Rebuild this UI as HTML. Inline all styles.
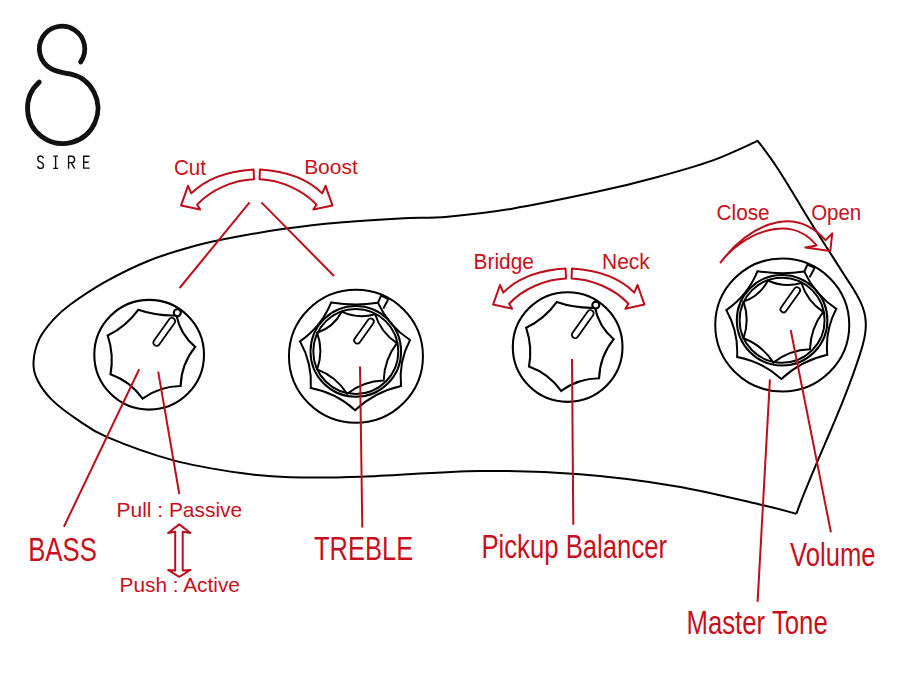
<!DOCTYPE html>
<html><head><meta charset="utf-8"><style>
html,body{margin:0;padding:0;background:#fff;}
svg{display:block;}
text{font-family:"Liberation Sans",sans-serif;fill:#c8101c;}
</style></head><body>
<svg width="900" height="675" viewBox="0 0 900 675">
<rect width="900" height="675" fill="#fff"/>
<path d="M80.6 62 A22.7 22.7 0 1 0 51 68.7 C58 72.6 63.5 72.5 70.1 73.9 A35.2 35.2 0 1 1 39.25 82.1" fill="none" stroke="#111" stroke-width="4.8" stroke-linecap="round"/>
<g fill="none" stroke="#111" stroke-width="1.4">
<path d="M43.5 158.2 C43 156.7 41.9 156 40.6 156 C38.8 156 37.8 157.2 37.8 158.9 C37.8 160.8 39.3 161.6 40.9 162.2 C42.7 162.9 43.5 163.9 43.5 165.7 C43.5 167.5 42.3 168.4 40.6 168.4 C39 168.4 37.9 167.6 37.6 166.1"/>
<path d="M55.6 156.1 V168.4 M53.2 156.1 H58 M53.1 168.4 H58.1"/>
<path d="M68.6 168.7 V156.2 H71.6 C73.7 156.2 74.6 157.6 74.6 159.4 C74.6 161.3 73.5 162.6 71.4 162.6 H68.6 M71.2 162.6 L74.6 168.7"/>
<path d="M89.6 156.2 H83.7 V168.1 H89.7 M83.7 162.3 H88.7"/>
</g>
<path d="M796.3 513.8 C790.62 512.33 782.32 509.6 762.2 505 C742.08 500.4 705.97 491.32 675.6 486.2 C645.23 481.08 612.6 476.83 580 474.3 C547.4 471.77 516.38 470.6 480 471 C443.62 471.4 393.37 475.67 361.7 476.7 C330.03 477.73 310.1 477.8 290 477.2 C269.9 476.6 260.65 475.95 241.1 473.1 C221.55 470.25 195.1 466.13 172.7 460.1 C150.3 454.07 122.72 443.73 106.7 436.9 C90.68 430.07 85.77 425.32 76.6 419.1 C67.43 412.88 58.23 406.12 51.7 399.6 C45.17 393.08 40.43 386.23 37.4 380 C34.37 373.77 33.2 369.02 33.5 362.2 C33.8 355.38 35.88 346.2 39.2 339.1 C42.52 332 48.27 325.33 53.4 319.6 C58.53 313.87 61.3 311.03 70 304.7 C78.7 298.37 92.27 289.02 105.6 281.6 C118.93 274.18 135.2 266.13 150 260.2 C164.8 254.27 181.07 249.7 194.4 246 C207.73 242.3 214.73 240.9 230 238 C245.27 235.1 267.67 231.18 286 228.6 C304.33 226.02 321 224.2 340 222.5 C359 220.8 382.03 219.37 400 218.4 C417.97 217.43 429.3 218.28 447.8 216.7 C466.3 215.12 485.63 213.17 511 208.9 C536.37 204.63 575.72 196.38 600 191.1 C624.28 185.82 638 182.28 656.7 177.2 C675.4 172.12 695.38 166.65 712.2 160.6 C729.02 154.55 750.03 144.18 757.6 140.9 C759.85 143.65 762.04 146.44 764.18 149.28 C766.32 152.12 768.41 155.00 770.46 157.91 C772.50 160.83 774.51 163.78 776.48 166.75 C778.45 169.73 780.39 172.73 782.30 175.75 C784.22 178.78 786.10 181.82 787.98 184.87 C789.85 187.92 791.71 190.99 793.55 194.05 C795.40 197.12 797.24 200.19 799.08 203.26 C800.92 206.33 802.77 209.39 804.62 212.45 C806.47 215.50 808.33 218.54 810.21 221.56 C812.09 224.59 813.98 227.59 815.89 230.58 C817.79 233.58 819.71 236.56 821.62 239.54 C823.54 242.52 825.46 245.49 827.37 248.46 C829.28 251.44 831.18 254.41 833.08 257.40 C834.98 260.38 836.87 263.37 838.79 266.38 C840.71 269.38 842.64 272.39 844.61 275.43 C846.58 278.46 848.60 281.51 850.59 284.59 C852.58 287.66 854.52 290.77 856.32 293.91 C858.12 297.05 859.77 300.23 861.17 303.46 C862.57 306.69 863.73 309.97 864.52 313.32 C865.32 316.66 865.74 320.07 865.81 323.53 C865.88 326.98 865.63 330.48 865.11 333.97 C864.59 337.47 863.80 340.97 862.86 344.45 C861.93 347.93 860.84 351.40 859.73 354.84 C858.62 358.29 857.48 361.72 856.31 365.12 C855.15 368.53 853.95 371.92 852.73 375.29 C851.51 378.66 850.26 382.02 849.00 385.36 C847.73 388.70 846.45 392.03 845.14 395.35 C843.84 398.66 842.51 401.97 841.18 405.26 C839.84 408.56 838.49 411.84 837.13 415.12 C835.77 418.40 834.39 421.68 833.01 424.94 C831.63 428.21 830.24 431.48 828.85 434.74 C827.46 438.00 826.06 441.26 824.66 444.52 C823.27 447.78 821.87 451.04 820.47 454.30 C819.07 457.56 817.68 460.83 816.29 464.09 C814.90 467.36 813.52 470.64 812.15 473.92 C810.77 477.20 809.41 480.49 808.05 483.79 C806.70 487.09 805.36 490.40 804.03 493.72 C802.71 497.04 801.40 500.37 800.11 503.72 C798.82 507.06 797.55 510.42 796.30 513.80" fill="none" stroke="#000" stroke-width="2"/>
<g fill="#fff" stroke="#000" stroke-width="2.1">
<circle cx="149.15" cy="354.75" r="54.85"/>
<path d="M138.2 309.8 Q126.17 326.47 107.7 335.5 Q114.09 354.49 110.5 374.2 Q130.42 381.3 142.6 398.6 Q159.59 386.23 180.6 386 Q181.34 364 195.2 346.9 Q180.35 334.47 176.5 315.5 Q156.82 316.21 138.2 309.8Z"/>
<circle cx="177.3" cy="312.8" r="3.5" fill="#fff"/>
<line x1="156.6" y1="342.6" x2="171.9" y2="321.1" stroke-width="8.4" stroke-linecap="round"/>
<line x1="156.6" y1="342.6" x2="171.9" y2="321.1" stroke="#fff" stroke-width="4.8" stroke-linecap="round"/>
<g transform="translate(418.5,-7.7)"><circle cx="149.15" cy="354.75" r="54.85"/>
<path d="M138.2 309.8 Q126.17 326.47 107.7 335.5 Q114.09 354.49 110.5 374.2 Q130.42 381.3 142.6 398.6 Q159.59 386.23 180.6 386 Q181.34 364 195.2 346.9 Q180.35 334.47 176.5 315.5 Q156.82 316.21 138.2 309.8Z"/>
<circle cx="177.3" cy="312.8" r="3.5" fill="#fff"/>
<line x1="156.6" y1="342.6" x2="171.9" y2="321.1" stroke-width="8.4" stroke-linecap="round"/>
<line x1="156.6" y1="342.6" x2="171.9" y2="321.1" stroke="#fff" stroke-width="4.8" stroke-linecap="round"/></g>
</g>
<g fill="none" stroke="#000" stroke-width="2">
<g><ellipse cx="355.95" cy="356.2" rx="67" ry="66.5"/>
<path d="M331.2 302.4 Q321.53 326.61 300 341.3 Q312.22 363.13 310.8 388.1 Q336.07 392.89 355.1 410.2 Q374.79 391.91 401 386 Q398.63 361.66 410 340 Q388.69 325.96 378 302.8 Q354.57 306.2 331.2 302.4Z"/>
<circle cx="355.8" cy="351.4" r="45.3"/>
<circle cx="355.8" cy="351.4" r="42.5"/>
<path d="M341.7 311.7 Q333.63 327.1 317.2 332.8 Q323.6 351.1 317.2 369.4 Q336.2 376.64 347.1 393.8 Q363.21 381.13 383.7 380.5 Q384.26 359.67 396.9 343.1 Q380.89 332.5 375.1 314.2 Q357.92 319.33 341.7 311.7Z"/>
<path d="M378 302.8 L381.1 295.7 L388.4 299 L383.3 308.6"/>
<line x1="357.3" y1="340.4" x2="370.7" y2="321.6" stroke-width="8" stroke-linecap="round"/>
<line x1="357.3" y1="340.4" x2="370.7" y2="321.6" stroke="#fff" stroke-width="4.4" stroke-linecap="round"/></g>
<g transform="translate(426.3,-31.2)"><ellipse cx="355.95" cy="356.2" rx="67" ry="66.5"/>
<path d="M331.2 302.4 Q321.53 326.61 300 341.3 Q312.22 363.13 310.8 388.1 Q336.07 392.89 355.1 410.2 Q374.79 391.91 401 386 Q398.63 361.66 410 340 Q388.69 325.96 378 302.8 Q354.57 306.2 331.2 302.4Z"/>
<circle cx="355.8" cy="351.4" r="45.3"/>
<circle cx="355.8" cy="351.4" r="42.5"/>
<path d="M341.7 311.7 Q333.63 327.1 317.2 332.8 Q323.6 351.1 317.2 369.4 Q336.2 376.64 347.1 393.8 Q363.21 381.13 383.7 380.5 Q384.26 359.67 396.9 343.1 Q380.89 332.5 375.1 314.2 Q357.92 319.33 341.7 311.7Z"/>
<path d="M378 302.8 L381.1 295.7 L388.4 299 L383.3 308.6"/>
<line x1="357.3" y1="340.4" x2="370.7" y2="321.6" stroke-width="8" stroke-linecap="round"/>
<line x1="357.3" y1="340.4" x2="370.7" y2="321.6" stroke="#fff" stroke-width="4.4" stroke-linecap="round"/></g>
</g>
<g fill="none" stroke="#bd0f1b" stroke-width="2" stroke-linejoin="round">
<path d="M253.6 169.4 L254 179.2 C233.78 179.89 210.88 189.62 197.1 204.6 L200.2 209.5 L181.1 205.4 L188 185.8 L191.3 193.4 C208.05 176.4 230.6 170.88 253.6 169.4Z"/>
<path transform="translate(513.55,0) scale(-1,1)" d="M253.6 169.4 L254 179.2 C233.78 179.89 210.88 189.62 197.1 204.6 L200.2 209.5 L181.1 205.4 L188 185.8 L191.3 193.4 C208.05 176.4 230.6 170.88 253.6 169.4Z"/>
<path transform="translate(312,99.2)" d="M253.6 169.4 L254 179.2 C233.78 179.89 210.88 189.62 197.1 204.6 L200.2 209.5 L181.1 205.4 L188 185.8 L191.3 193.4 C208.05 176.4 230.6 170.88 253.6 169.4Z"/>
<path transform="translate(312,99.2) translate(513.55,0) scale(-1,1)" d="M253.6 169.4 L254 179.2 C233.78 179.89 210.88 189.62 197.1 204.6 L200.2 209.5 L181.1 205.4 L188 185.8 L191.3 193.4 C208.05 176.4 230.6 170.88 253.6 169.4Z"/>
<line x1="249.6" y1="202.4" x2="179.6" y2="288"/>
<line x1="261.4" y1="202.4" x2="334" y2="276"/>
<line x1="139.2" y1="369.3" x2="63.9" y2="526.7"/>
<line x1="158.2" y1="371.7" x2="179.3" y2="494"/>
<line x1="360" y1="366.4" x2="362.3" y2="527.5"/>
<line x1="572" y1="359" x2="573.3" y2="524.8"/>
<line x1="769.9" y1="379.4" x2="757.6" y2="601.9"/>
<line x1="790.7" y1="330" x2="830.9" y2="532.2"/>
<path d="M720.6 262.4 C746.54 228.35 791.13 202.01 825.5 240.2 L832.2 233.4 L830.3 251 L805.3 247.5 L816.5 245.4 C790.15 211.58 741.63 234.61 720.6 262.4Z"/>
<path d="M179.2 524.4 L190.5 533 L182.7 531.7 L182.7 570.6 L190.5 570 L179.2 576.8 L168.1 570 L175.2 570.6 L175.2 531.7 L168.1 533Z"/>
</g>
<text x="173.94" y="174.8" font-size="21.3" textLength="32.01" lengthAdjust="spacingAndGlyphs">Cut</text>
<text x="304.15" y="174.2" font-size="21" textLength="53.58" lengthAdjust="spacingAndGlyphs">Boost</text>
<text x="473.56" y="268.8" font-size="21.3" textLength="60.29" lengthAdjust="spacingAndGlyphs">Bridge</text>
<text x="602.03" y="268.5" font-size="21.3" textLength="47.82" lengthAdjust="spacingAndGlyphs">Neck</text>
<text x="716.62" y="219.9" font-size="21.3" textLength="53.06" lengthAdjust="spacingAndGlyphs">Close</text>
<text x="811.16" y="219.9" font-size="21.3" textLength="50.08" lengthAdjust="spacingAndGlyphs">Open</text>
<text x="116.61" y="517.3" font-size="21" textLength="125.53" lengthAdjust="spacingAndGlyphs">Pull : Passive</text>
<text x="119.54" y="592.4" font-size="21" textLength="120.43" lengthAdjust="spacingAndGlyphs">Push : Active</text>
<text x="28.20" y="560.6" font-size="32.7" textLength="68.60" lengthAdjust="spacingAndGlyphs">BASS</text>
<text x="314.01" y="559.9" font-size="32.7" textLength="99.13" lengthAdjust="spacingAndGlyphs">TREBLE</text>
<text x="481.42" y="558" font-size="32.7" textLength="185.67" lengthAdjust="spacingAndGlyphs">Pickup Balancer</text>
<text x="790.08" y="565.6" font-size="32.7" textLength="85.45" lengthAdjust="spacingAndGlyphs">Volume</text>
<text x="686.42" y="634.1" font-size="32.7" textLength="141.37" lengthAdjust="spacingAndGlyphs">Master Tone</text>
</svg>
</body></html>
